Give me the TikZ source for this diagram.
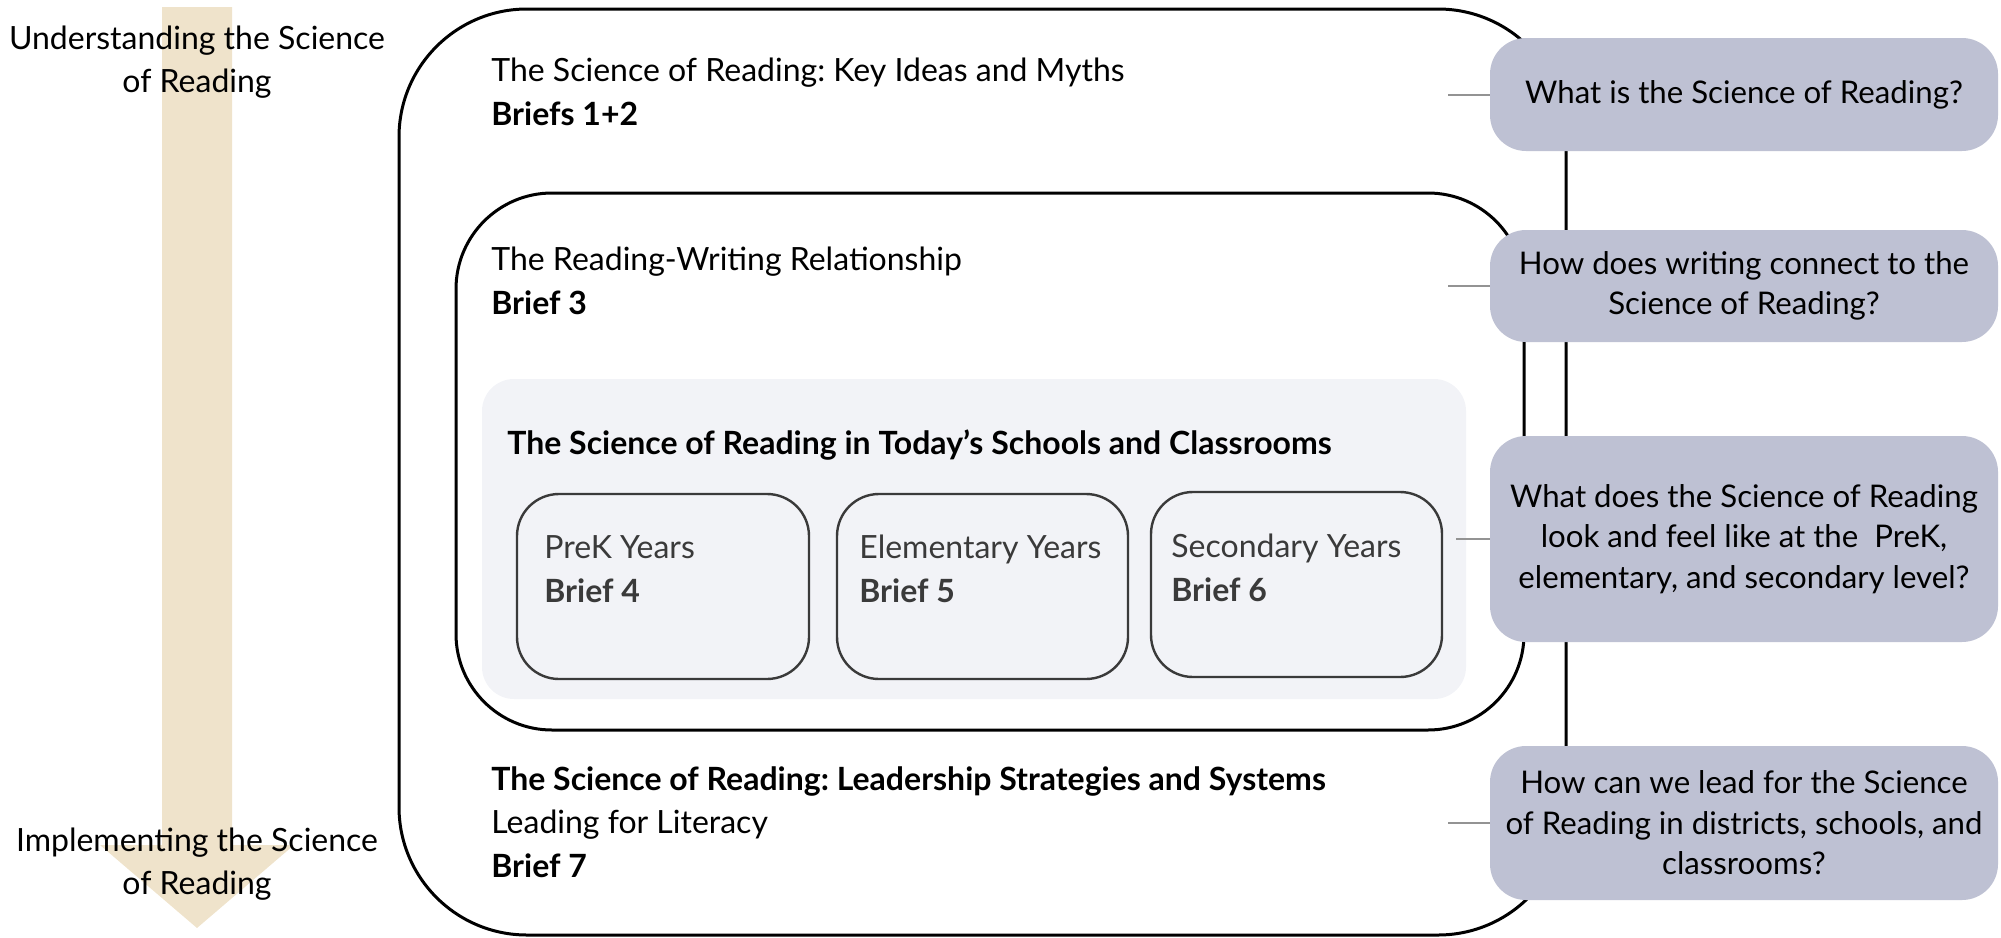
\documentclass[tikz,border=0pt]{standalone}
\usepackage{fontspec}
\setmainfont{Lato}
\frenchspacing
\usetikzlibrary{calc,shapes}
\definecolor{beige}{HTML}{EFE3CB}
\definecolor{lavande}{HTML}{BEC1D3}
\definecolor{panneau}{HTML}{F2F3F7}
\definecolor{fonce}{HTML}{3A3A3A}
\tikzset{
  txt/.style={anchor=west,align=left,inner sep=0pt,font=\fontsize{16}{21.7}\selectfont},
  question/.style={fill=lavande,rounded corners=18pt,minimum width=254pt,inner sep=0pt,align=center,font=\fontsize{15.6}{20.2}\selectfont},
  cadre/.style={draw,line width=1.5pt},
  annee/.style={draw=fonce,line width=1.2pt,rounded corners=21pt},
  lien/.style={gray!85,line width=1pt}
}
\begin{document}
\begin{tikzpicture}[x=0.5pt,y=-0.5pt]
\useasboundingbox (0,0) rectangle (2001,937);
			% Flèche
\fill[beige] (162,7) -- (232,7) -- (232,845) -- (294,845) -- (197,928) -- (100,845) -- (162,845) -- cycle;
\node[align=center,inner sep=0pt,font=\fontsize{16}{21.7}\selectfont] (haut) at (197,62) {Understanding the Science\\of Reading};
\node[align=center,inner sep=0pt,font=\fontsize{16}{21.7}\selectfont] (bas) at (197,864) {Implementing the Science\\of Reading};
			% Cadres
\draw[cadre,rounded corners=64pt] (399,9) rectangle (1566,935);
\draw[cadre,rounded corners=48pt] (456,193) rectangle (1524,730);
\fill[panneau,rounded corners=16pt] (482,379) rectangle (1466,699);
\draw[annee] (517,494) rectangle (809,679);
\draw[annee] (837,494) rectangle (1128,679);
\draw[annee] (1151,492) rectangle (1442,677);
			% Textes
\node[txt] (mythes) at (491,92) {The Science of Reading: Key Ideas and Myths\\\textbf{Briefs 1+2}};
\node[txt] (ecriture) at (491,281) {The Reading-Writing Relationship\\\textbf{Brief 3}};
\node[txt] (ecoles) at (507,445) {\textbf{The Science of Reading in Today’s Schools and Classrooms}};
\node[txt,text=fonce] (prek) at (544,569) {PreK Years\\\textbf{Brief 4}};
\node[txt,text=fonce] (elem) at (859,569) {Elementary Years\\\textbf{Brief 5}};
\node[txt,text=fonce] (sec) at (1171,568) {Secondary Years\\\textbf{Brief 6}};
\node[txt] (direction) at (491,822) {\textbf{The Science of Reading: Leadership Strategies and Systems}\\Leading for Literacy\\\textbf{Brief 7}};
			% Questions
\node[question,minimum height=56.5pt] (q1) at (1744,94.5) {What is the Science of Reading?};
\node[question,minimum height=56pt] (q2) at (1744,286) {How does writing connect to the\\Science of Reading?};
\node[question,minimum height=103pt] (q3) at (1744,539) {What does the Science of Reading\\look and feel like at the\ \ PreK,\\elementary, and secondary level?};
\node[question,minimum height=77pt] (q4) at (1744,823) {How can we lead for the Science\\of Reading in districts, schools, and\\classrooms?};
\coordinate (c1) at ($(q1.west)+(-42,0)$);
\coordinate (c2) at ($(q2.west)+(-42,0)$);
\coordinate (c3) at ($(q3.west)+(-34,0)$);
\coordinate (c4) at ($(q4.west)+(-42,0)$);
\draw[lien] (q1.west) -- (c1);
\draw[lien] (q2.west) -- (c2);
\draw[lien] (q3.west) -- (c3);
\draw[lien] (q4.west) -- (c4);
			\end{tikzpicture}
\end{document}
